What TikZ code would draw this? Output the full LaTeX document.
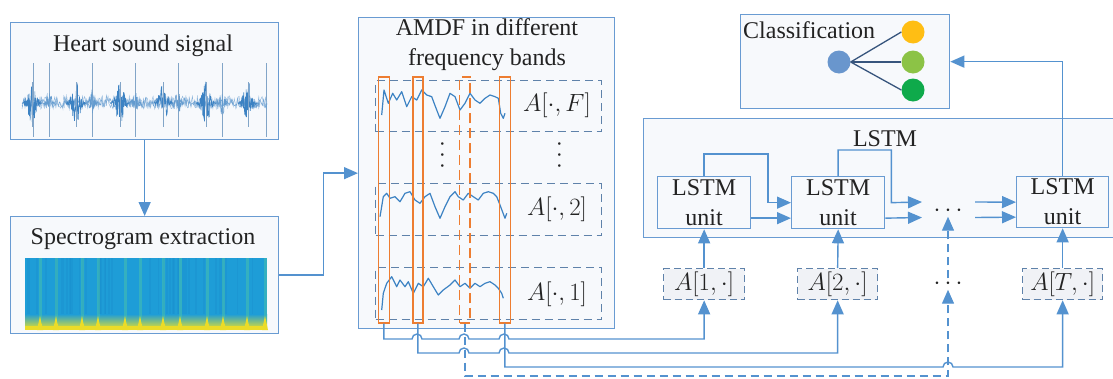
\documentclass[tikz,border=0pt]{standalone}
\usepackage[no-math]{fontspec}
\setmainfont{Liberation Serif}
\usetikzlibrary{arrows.meta,calc}
\definecolor{lb}{RGB}{84,146,207}
\definecolor{bb}{RGB}{105,155,210}
\definecolor{dg}{RGB}{95,130,170}
\definecolor{orng}{RGB}{237,125,49}
\definecolor{bgf}{RGB}{247,249,252}
\definecolor{agf}{RGB}{240,242,246}
\definecolor{txt}{RGB}{35,35,35}
\definecolor{specb}{RGB}{30,157,215}
\definecolor{specd}{RGB}{25,140,205}
\definecolor{specs}{RGB}{75,195,170}
\definecolor{specy}{RGB}{235,220,40}
\definecolor{cblue}{RGB}{105,150,205}
\definecolor{cyel}{RGB}{255,190,20}
\definecolor{cgrn}{RGB}{140,195,70}
\definecolor{cdgrn}{RGB}{15,170,75}
\definecolor{cline}{RGB}{55,85,125}
\definecolor{wavec}{RGB}{60,130,195}
\definecolor{spikec}{RGB}{130,165,200}
\newcommand{\TxtFont}{\fontsize{24}{30}\selectfont}
\newcommand{\MathLblFont}{\fontsize{24.88}{30}\selectfont}
\begin{document}
\begin{tikzpicture}[x=1pt,y=-1pt,
  box/.style={draw=bb,line width=1.3pt,fill=bgf,inner sep=0pt,anchor=north west},
  abox/.style={draw=dg,line width=1.3pt,dash pattern=on 7pt off 4pt,fill=agf,inner sep=0pt,anchor=north west,font=\MathLblFont,text=txt},
  dbox/.style={draw=dg,line width=1.3pt,dash pattern=on 8pt off 5pt,inner sep=0pt,anchor=north west,minimum width=226pt},
  obox/.style={draw=orng,line width=1.7pt,inner sep=0pt,anchor=north west,minimum height=246pt},
  conn/.style={draw=lb,line width=1.4pt},
  arr/.style={conn,-{Triangle[length=14pt,width=12pt]}},
  dconn/.style={conn,dash pattern=on 8pt off 5pt},
  darr/.style={dconn,-{Triangle[length=14pt,width=12pt]}},
  lbl/.style={inner sep=0pt,text=txt,font=\TxtFont},
  mlbl/.style={inner sep=0pt,text=txt,font=\MathLblFont},
  wave/.style={draw=wavec,line width=1.2pt,line join=round},
  unitbox/.style={box,align=center,font=\TxtFont,text=txt,minimum height=52pt},
  dot/.style={circle,inner sep=0pt,minimum size=23pt},
]
\useasboundingbox (0,0) rectangle (1113,378);

% ---------- left column ----------
\node[box,minimum width=268pt,minimum height=117pt] (heart) at (10,22) {};
\node[lbl] (hearttxt) at (143,46) {Heart sound signal};
\begin{scope}
  \pgfmathsetseed{3}
  \foreach \s in {33,49,92,135,178,222,266} {\draw[spikec,line width=0.6pt] (\s,63) -- (\s,137);}
  \draw[wavec!75,line width=0.5pt] plot[domain=22:267,samples=420] (\x,{103+5*rand});
  \draw[wavec!60,line width=0.4pt] plot[domain=22:267,samples=300] (\x,{102+7*rand});
  \foreach \b in {32,76,120,163,206,248} {
    \draw[wavec,line width=0.6pt] plot[domain=\b-10:\b+10,samples=60] (\x,{103+22*rand*exp(-(\x-\b)*(\x-\b)/25)});
    \draw[spikec,line width=0.6pt] (\b,82) -- (\b,127);
  }
  \foreach \s in {49,92,135,178,222} {
    \draw[wavec!80,line width=0.5pt] plot[domain=\s-6:\s+6,samples=30] (\x,{103+12*rand*exp(-(\x-\s)*(\x-\s)/12)});
  }
\end{scope}

\node[box,minimum width=268pt,minimum height=117pt] (spec) at (10,216) {};
\node[lbl] (spectxt) at (143,239) {Spectrogram extraction};
\fill[specb] (25,258) rectangle (267,330);
\begin{scope}
  \pgfmathsetseed{11}
  \foreach \i in {1,...,40} {
    \pgfmathsetmacro{\cx}{26+240*rnd}
    \pgfmathsetmacro{\cw}{1+2*rnd}
    \fill[specd,opacity=0.35] (\cx,258) rectangle (\cx+\cw,325);
  }
\end{scope}
\shade[top color=specb,bottom color=specy!80!specs] (25,314) rectangle (267,327);
\fill[specy] (25,326) rectangle (267,330);
\foreach \s in {40,56,82,98,125,140,163,180,207,223,247,265} {
  \fill[specs,opacity=0.5] (\s-1.5,258) rectangle (\s+1.5,330);
  \fill[specy] (\s-3,330) -- (\s,316) -- (\s+3,330) -- cycle;
}

\draw[arr] (heart.south) -- (spec.north);

% ---------- AMDF ----------
\node[box,minimum width=256pt,minimum height=311pt] (amdf) at (358,17) {};
\node[lbl,align=center] (amdftxt) at (487,45) {AMDF in different\\frequency bands};
\draw[arr] (spec.east) -- ++(44,0) |- (amdf.west);

\node[dbox,minimum height=51pt] (dF) at (375,80) {};
\node[dbox,minimum height=52pt] (d2) at (375,183) {};
\node[dbox,minimum height=52pt] (d1) at (375,267) {};
\node[mlbl] (lF) at (557,105) {$A[\cdot,F]$};
\node[mlbl] (l2) at (557,209) {$A[\cdot,2]$};
\node[mlbl] (l1) at (557,294) {$A[\cdot,1]$};
\node[mlbl,rotate=90] (vd1) at (443,155) {$\cdots$};
\node[mlbl,rotate=90] (vd2) at (560,155) {$\cdots$};

\draw[wave] plot coordinates {(381.7,115) (384,90) (388.3,103.3) (392.7,93.3) (396.7,100) (401.7,91.7) (406.7,106.7) (411.7,96.7) (416.7,100) (421.7,90) (426.7,95) (431.7,96.7) (436.7,110) (440,118.3) (445,106.7) (450,93.3) (455,96.7) (460,110) (465,103.3) (470,93.3) (475,100) (480,103.3) (485,98.3) (490,95) (495,96.7) (498.3,98.3) (500.7,113.3) (503.3,118.3) (505,113.3)};
\draw[wave] plot coordinates {(380,216.7) (383.3,196.7) (386.7,193.3) (390,198.3) (395,196.7) (400,201.7) (405,193.3) (410,191.7) (415,200) (420,203.3) (425,196.7) (430,193.3) (435,206.7) (440,218.3) (445,206.7) (450,196.7) (455,191.7) (458.3,196.7) (463.3,200) (468.3,193.3) (473.3,196.7) (478.3,200) (483.3,193.3) (488.3,191.7) (493.3,193.3) (496.7,196.7) (500,205) (505,218.3) (506.7,213.3)};
\draw[wave] plot coordinates {(381.7,310) (383.3,293.3) (386.7,283.3) (391.7,276.7) (396.7,286.7) (400,280) (405,286.7) (408.3,281.7) (413.3,293.3) (418.3,283.3) (423.3,286.7) (428.3,278.3) (433.3,286.7) (438.3,295) (443.3,290) (450,285) (455,280) (460,286.7) (465,283.3) (470,288.3) (475,283.3) (480,286.7) (485,283.3) (490,281.7) (495,285) (498.3,288.3) (501.7,293.3) (503.3,298.3)};

\node[obox,minimum width=11pt] (o1) at (377.5,76) {};
\node[obox,minimum width=10pt] (o2) at (412,76) {};
\node[obox,minimum width=10.5pt,dash pattern=on 10pt off 5pt] (o3) at (458.75,76) {};
\node[obox,minimum width=11pt] (o4) at (498.5,76) {};

% ---------- A boxes ----------
\node[abox,minimum width=81pt,minimum height=31pt] (a1) at (663,268) {$A[1,\cdot]$};
\node[abox,minimum width=80pt,minimum height=31pt] (a2) at (797,268) {$A[2,\cdot]$};
\node[abox,minimum width=80pt,minimum height=31pt] (aT) at (1022,268) {$A[T,\cdot]$};
\node[mlbl] (ldots) at (948,284) {$\cdots$};

% ---------- LSTM ----------
\node[box,minimum width=480pt,minimum height=119pt] (lstm) at (643,118) {};
\node[lbl] (lstmtxt) at (885,139) {LSTM};
\node[unitbox,minimum width=93pt] (u1) at (657,176) {LSTM\\unit};
\node[unitbox,minimum width=93pt] (u2) at (791,176) {LSTM\\unit};
\node[unitbox,minimum width=92pt,minimum height=51pt] (uT) at (1016,176) {LSTM\\unit};
\node[mlbl] (udots) at (948,211) {$\cdots$};
\coordinate (d1c) at (922,202);
\coordinate (d2c) at (922,217.5);
\coordinate (e1c) at (975,202);
\coordinate (e2c) at (975,217.5);

\draw[arr] (u1.north) -- ++(0,-22) -| ($(u2.west)+(-23,0)$) -- (u2.west);
\draw[arr] ([yshift=-15.5pt]u1.east) -- ([yshift=-15.5pt]u2.west);
\draw[arr] (u2.north) -- ++(0,-26) -| ($(u2.east)+(6,0)$) -- (d1c);
\draw[arr] ([yshift=-15.5pt]u2.east) -- (d2c);
\draw[arr] (e1c) -- (uT.west);
\draw[arr] (e2c) -- ([yshift=-15pt]uT.west);

\draw[arr] (a1.north) -- (u1.south);
\draw[arr] (a2.north) -- (u2.south);
\draw[arr] (aT.north) -- (uT.south);

% ---------- Classification ----------
\node[box,minimum width=209pt,minimum height=94pt] (cls) at (740,14) {};
\node[lbl,anchor=west] (clstxt) at (743,30) {Classification};
\node[dot,fill=cblue] (cb) at (839,62) {};
\node[dot,fill=cyel] (cy) at (913,32) {};
\node[dot,fill=cgrn] (cg) at (913,62) {};
\node[dot,fill=cdgrn] (cd) at (913,90) {};
\draw[cline,line width=1.3pt] (cb.east) -- (cy.west);
\draw[cline,line width=1.3pt] (cb.east) -- (cg.west);
\draw[cline,line width=1.3pt] (cb.east) -- (cd.west);
\draw[arr] (uT.north) |- (cls.east);

% ---------- bottom connectors ----------
\coordinate (bend3) at (948,376);
\draw[arr] (o1.south) |- (412,339) arc[start angle=180,end angle=0,radius=5pt] -- (459,339) arc[start angle=180,end angle=0,radius=5pt] -- (499,339) arc[start angle=180,end angle=0,radius=5pt] -| (a1.south);
\draw[arr] (o2.south) |- (459,353) arc[start angle=180,end angle=0,radius=5pt] -- (499,353) arc[start angle=180,end angle=0,radius=5pt] -| (a2.south);
\draw[arr] (o4.south) |- (943,367) arc[start angle=180,end angle=0,radius=5pt] -| (aT.south);
\draw[darr] (o3.south) |- (bend3) -- (ldots.south);
\draw[darr] (ldots.north) -- (udots.south);
\end{tikzpicture}
\end{document}
